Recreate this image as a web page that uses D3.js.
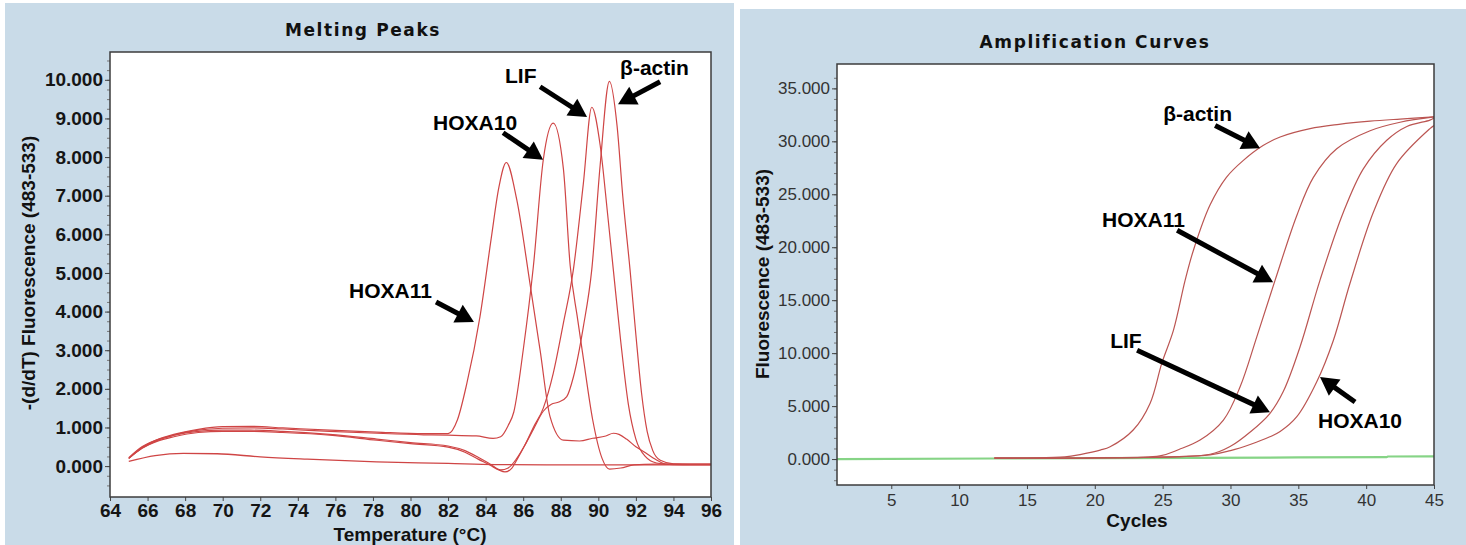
<!DOCTYPE html>
<html>
<head>
<meta charset="utf-8">
<script src="https://cdn.jsdelivr.net/npm/d3@7"></script>
<style>
  body { margin: 0; background: #fff; }
  svg { display: block; }
</style>
</head>
<body>
<svg id="chart" width="1466" height="545"></svg>
<script>
// Melting peaks, [temperature °C, -(d/dT) fluorescence]
let hoxa11Melt = [[65,0.2],[65.7,0.48],[66.5,0.68],[67.4,0.82],[68.7,0.95],[70,1.02],[71.5,1.03],[73.2,0.99],[75.7,0.93],[78.2,0.88],[80.7,0.84],[82,0.84],[82.5,1.2],[83,2.14],[83.7,3.87],[84.3,5.9],[84.7,7.2],[85.1,7.86],[85.66,6.89],[86.36,4.73],[86.9,3.0],[87.43,1.28],[88.14,0.67],[89,0.65],[89.7,0.72],[90.4,0.78],[90.8,0.85],[91.1,0.82],[91.5,0.7],[92,0.5],[92.4,0.38],[93.1,0.16],[93.6,0.05],[94.5,0.04],[96,0.04]];
let hoxa10Melt = [[65,0.2],[65.7,0.46],[66.5,0.66],[67.4,0.8],[68.7,0.93],[70,0.98],[71.5,0.99],[73.2,0.96],[75.7,0.9],[78.2,0.85],[80.7,0.81],[82,0.8],[83.5,0.78],[84.4,0.72],[84.8,0.76],[85.2,1.05],[85.5,1.4],[86,3.0],[86.54,5.16],[87.07,7.93],[87.6,8.88],[88.14,7.7],[88.5,5.2],[88.9,3.8],[89.2,2.8],[89.7,1.2],[90.2,0.2],[90.6,-0.08],[91.2,-0.05],[91.9,0.03],[93,0.05],[96,0.05]];
let lifMelt = [[65,0.2],[65.7,0.46],[66.5,0.64],[67.4,0.76],[68.7,0.87],[70,0.9],[71.5,0.9],[73.2,0.87],[75.7,0.8],[78.2,0.67],[80,0.58],[82,0.49],[82.9,0.36],[83.6,0.18],[84.25,0.02],[84.7,-0.1],[85.03,-0.15],[85.4,-0.05],[85.66,0.16],[86.1,0.55],[86.54,1.0],[87.07,1.5],[87.6,2.4],[88.14,3.7],[88.67,5.08],[89.2,7.3],[89.65,9.29],[90.1,8.3],[90.5,6.5],[90.8,5.08],[91.2,3.2],[91.6,1.6],[92,0.7],[92.5,0.25],[93.1,0.08],[94,0.04],[96,0.04]];
let actinMelt = [[65,0.22],[65.7,0.5],[66.5,0.68],[67.4,0.8],[68.7,0.9],[70,0.93],[71.5,0.93],[73.2,0.9],[75.7,0.82],[78.2,0.7],[80,0.61],[82,0.52],[82.9,0.4],[83.6,0.23],[84.25,0.05],[84.8,-0.1],[85.2,-0.05],[85.66,0.2],[86.1,0.55],[86.54,0.95],[87.07,1.42],[87.5,1.6],[87.9,1.66],[88.32,1.8],[88.67,2.3],[89.2,3.6],[89.65,5.08],[90.1,7.8],[90.59,9.96],[91,8.8],[91.3,7.0],[91.69,5.08],[92,3.4],[92.3,1.9],[92.6,0.9],[92.9,0.4],[93.3,0.15],[94,0.06],[96,0.05]];
let blankMelt = [[65,0.12],[66.4,0.27],[67.9,0.33],[69.7,0.32],[72,0.24],[74.5,0.18],[78.2,0.11],[82,0.07],[84.5,0.04],[90,0.03],[96,0.03]];

// Amplification, [cycle, fluorescence]
let actinAmp = [[12.6,0.08],[15,0.1],[17.8,0.2],[19,0.45],[20.4,0.85],[21.13,1.16],[22.83,2.74],[24.08,5.28],[24.94,9.06],[25.8,12.17],[26.66,16.89],[27.27,19.72],[28.5,24.0],[29.7,26.6],[30.95,28.2],[32.4,29.6],[33.66,30.41],[35.87,31.2],[38,31.6],[40.29,31.9],[42.5,32.1],[45,32.3]];
let hoxa11Amp = [[12.6,0.08],[20,0.1],[24.8,0.3],[26.2,0.9],[27.76,1.79],[29.48,3.68],[30.71,6.82],[31.94,11.54],[33.29,16.89],[34.89,23.0],[36.11,26.6],[37.83,29.3],[40.29,31.0],[42.5,31.8],[45,32.3]];
let lifAmp = [[12.6,0.1],[20,0.12],[28.5,0.45],[30,1.2],[31.5,2.6],[32.9,4.3],[33.9,6.4],[35.13,10.6],[36.6,16.9],[38.32,23.3],[39.79,27.4],[41.52,30.1],[43,31.4],[44.7,32.0],[45,32.2]];
let hoxa10Amp = [[12.6,0.1],[20,0.12],[28.5,0.4],[30,0.8],[31.5,1.4],[32.9,2.1],[33.66,2.6],[34.89,4.0],[36.36,7.3],[37.58,11.2],[38.81,16.6],[40.53,23.3],[42.25,27.9],[44.7,31.2],[45,31.5]];
let blankAmp = [[1,0.0],[12.5,0.05],[20,0.08],[27.5,0.12],[35,0.15],[41.5,0.18],[41.6,0.24],[45,0.26]];

let meltXTicks = d3.range(64, 97, 2);
let meltYTicks = d3.range(0, 11, 1);
let ampXTicks = [5, 10, 15, 20, 25, 30, 35, 40, 45];
let ampYTicks = [0, 5, 10, 15, 20, 25, 30, 35];

// labels: [text, textX, textY, arrowTailX, arrowTailY, tipX, tipY] in data units
let meltLabels = [["HOXA11",76.73,4.35,81.36,4.25,83.38,3.73],["HOXA10",81.2,8.7,84.93,8.63,87.06,7.93],["LIF",85.03,9.92,86.9,9.82,89.4,9.04],["β-actin",91.16,10.13,93.29,9.95,91.05,9.37]];
let ampLabels = [["β-actin",25.04,31.9,28.87,31.5,32.18,29.34],["HOXA11",20.54,21.9,26.07,21.6,33.14,16.7],["LIF",21.13,10.47,23.12,10.28,32.91,4.43],["HOXA10",36.45,2.92,39.18,5.38,36.6,7.74]];

let svg = d3.select("#chart");
let bg = "#c9dbe8";

function drawArrow(g, x1, y1, x2, y2){
	let dx = x2 - x1, dy = y2 - y1;
	let len = Math.sqrt(dx*dx + dy*dy);
	let ux = dx/len, uy = dy/len;
	let hl = 18, hw = 10;
	let bx = x2 - ux*hl, by = y2 - uy*hl;
	g.append("line")
		.attr("x1", x1).attr("y1", y1)
		.attr("x2", bx + ux*2).attr("y2", by + uy*2)
		.attr("stroke", "#000").attr("stroke-width", 5);
	g.append("path")
		.attr("d", `M${x2},${y2}L${bx - uy*hw},${by + ux*hw}L${bx + uy*hw},${by - ux*hw}Z`)
		.attr("fill", "#000");
}

function panel(opt){
	let g = svg.append("g");
	g.append("rect")
		.attr("x", opt.box[0]).attr("y", opt.box[1])
		.attr("width", opt.box[2]).attr("height", opt.box[3])
		.attr("fill", bg);

	let x = d3.scaleLinear().domain(opt.xDom).range([opt.plot[0], opt.plot[2]]);
	let y = d3.scaleLinear().domain(opt.yDom).range([opt.plot[3], opt.plot[1]]);

	g.append("rect")
		.attr("x", opt.plot[0]).attr("y", opt.plot[1])
		.attr("width", opt.plot[2]-opt.plot[0]).attr("height", opt.plot[3]-opt.plot[1])
		.attr("fill", "#fff");

	// minor ticks on y
	g.append("g")
		.attr("transform", `translate(${opt.plot[0]},0)`)
		.call(d3.axisLeft(y).tickValues(opt.yMinor).tickSize(3).tickFormat(""))
		.call(a => a.select(".domain").remove())
		.selectAll("line").attr("stroke", "#777");

	let yAxis = g.append("g")
		.attr("transform", `translate(${opt.plot[0]},0)`)
		.call(d3.axisLeft(y).tickValues(opt.yTicks).tickSize(5).tickPadding(2).tickFormat(d3.format(".3f")));
	let xAxis = g.append("g")
		.attr("transform", `translate(0,${opt.plot[3]})`)
		.call(d3.axisBottom(x).tickValues(opt.xTicks).tickSize(4).tickPadding(opt.xPad));
	[xAxis, yAxis].forEach(a => {
		a.select(".domain").remove();
		a.selectAll("line").attr("stroke", "#444");
		a.selectAll("text")
			.attr("font-family", "'Liberation Sans', Arial, sans-serif")
			.attr("font-size", opt.tickSize)
			.attr("font-weight", opt.tickWeight)
			.attr("fill", opt.tickColour);
	});

	let clipId = "clip" + opt.id;
	g.append("clipPath").attr("id", clipId)
		.append("rect")
		.attr("x", opt.plot[0]).attr("y", opt.plot[1])
		.attr("width", opt.plot[2]-opt.plot[0]).attr("height", opt.plot[3]-opt.plot[1]);

	let lines = g.append("g").attr("clip-path", `url(#${clipId})`);
	opt.series.forEach(s => {
		let line = d3.line()
			.curve(s.curve || opt.curve)
			.x(d => x(d[0]))
			.y(d => y(d[1]));
		lines.append("path")
			.attr("d", line(s.values))
			.attr("fill", "none")
			.attr("stroke", s.colour)
			.attr("stroke-width", s.width);
	});

	g.append("rect")
		.attr("x", opt.plot[0]).attr("y", opt.plot[1])
		.attr("width", opt.plot[2]-opt.plot[0]).attr("height", opt.plot[3]-opt.plot[1])
		.attr("fill", "none")
		.attr("stroke", "#3c3c3c")
		.attr("stroke-width", 1.5);

	// annotations
	opt.labels.forEach(l => {
		g.append("text")
			.attr("x", x(l[1])).attr("y", y(l[2]))
			.attr("font-family", "'Liberation Sans', Arial, sans-serif")
			.attr("font-weight", "bold")
			.attr("font-size", 21)
			.attr("fill", "#000")
			.text(l[0]);
		drawArrow(g, x(l[3]), y(l[4]), x(l[5]), y(l[6]));
	});

	g.append("text")
		.attr("x", opt.title[1]).attr("y", opt.title[2])
		.attr("text-anchor", "middle")
		.attr("font-family", "'DejaVu Sans', Verdana, sans-serif")
		.attr("font-weight", "bold")
		.attr("font-size", 17)
		.attr("letter-spacing", 1.6)
		.attr("fill", "#111")
		.text(opt.title[0]);

	g.append("text")
		.attr("x", opt.xTitle[1]).attr("y", opt.xTitle[2])
		.attr("text-anchor", "middle")
		.attr("font-family", "'Liberation Sans', Arial, sans-serif")
		.attr("font-weight", "bold")
		.attr("font-size", 19)
		.attr("fill", "#111")
		.text(opt.xTitle[0]);

	g.append("text")
		.attr("transform", `translate(${opt.yTitle[1]},${opt.yTitle[2]}) rotate(-90)`)
		.attr("text-anchor", "middle")
		.attr("font-family", "'Liberation Sans', Arial, sans-serif")
		.attr("font-weight", "bold")
		.attr("font-size", 19)
		.attr("fill", "#111")
		.text(opt.yTitle[0]);
}

let meltRed = "#cf4545";
panel({
	id: "melt",
	box: [5, 3, 729, 542],
	plot: [110, 52, 711, 497],
	xDom: [64, 96],
	yDom: [-0.8, 10.72],
	xTicks: meltXTicks,
	yTicks: meltYTicks,
	yMinor: d3.range(-0.5, 10.6, 0.25),
	xPad: 3,
	tickSize: 19,
	tickWeight: "bold",
	tickColour: "#151515",
	curve: d3.curveMonotoneX,
	series: [
		{values: blankMelt, colour: meltRed, width: 1.3},
		{values: hoxa11Melt, colour: meltRed, width: 1.2},
		{values: hoxa10Melt, colour: meltRed, width: 1.2},
		{values: lifMelt, colour: meltRed, width: 1.2},
		{values: actinMelt, colour: meltRed, width: 1.2}
	],
	labels: meltLabels,
	title: ["Melting Peaks", 363, 36],
	xTitle: ["Temperature (°C)", 410, 541],
	yTitle: ["-(d/dT) Fluorescence (483-533)", 35, 273]
});

let ampRed = "#bb5552";
panel({
	id: "amp",
	box: [740, 9, 726, 536],
	plot: [837, 64, 1434, 485],
	xDom: [1, 45],
	yDom: [-2.45, 37.3],
	xTicks: ampXTicks,
	yTicks: ampYTicks,
	yMinor: d3.range(-2, 37, 1),
	xPad: 5,
	tickSize: 17,
	tickWeight: "normal",
	tickColour: "#333",
	curve: d3.curveCatmullRom.alpha(0.5),
	series: [
		{values: blankAmp, colour: "#86d486", width: 2.2, curve: d3.curveLinear},
		{values: actinAmp, colour: ampRed, width: 1.2},
		{values: hoxa11Amp, colour: ampRed, width: 1.2},
		{values: lifAmp, colour: ampRed, width: 1.2},
		{values: hoxa10Amp, colour: ampRed, width: 1.2}
	],
	labels: ampLabels,
	title: ["Amplification Curves", 1095, 48],
	xTitle: ["Cycles", 1137, 527],
	yTitle: ["Fluorescence (483-533)", 769, 274]
});
</script>
</body>
</html>
